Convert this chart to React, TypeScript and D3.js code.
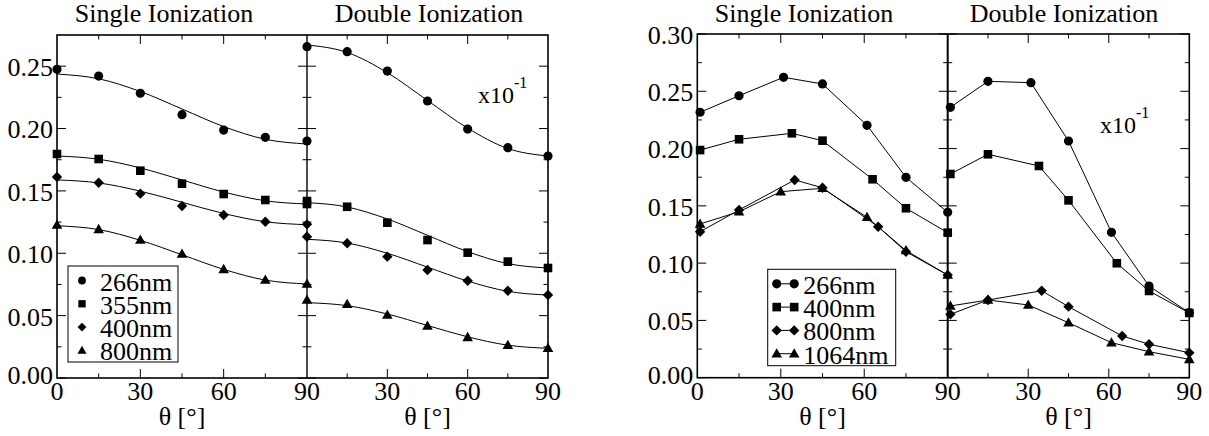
import React from "react";
import * as d3 from "d3";

// ---------- DATA ----------
const THETA = [0, 15, 30, 45, 60, 75, 90];

// Left figure: Single ionization (points + fit curve values)
const L_SI_266 = [0.2475, 0.2421, 0.2283, 0.2111, 0.1988, 0.193, 0.19];
const L_SI_355 = [0.1796, 0.1756, 0.1662, 0.1558, 0.1475, 0.1427, 0.1419];
const L_SI_400 = [0.1612, 0.1566, 0.1478, 0.1379, 0.1307, 0.1253, 0.1232];
const L_SI_800 = [0.1227, 0.1192, 0.1106, 0.0994, 0.0871, 0.0786, 0.0754];
const L_SI_FIT_266 = [0.2437, 0.2399, 0.2297, 0.2157, 0.2016, 0.1914, 0.1876];
const L_SI_FIT_355 = [0.178, 0.1754, 0.1684, 0.1588, 0.1491, 0.1421, 0.1395];
const L_SI_FIT_400 = [0.1588, 0.1564, 0.1498, 0.1409, 0.1319, 0.1253, 0.1229];
const L_SI_FIT_800 = [0.1221, 0.119, 0.1104, 0.0988, 0.0871, 0.0785, 0.0754];

// Left figure: Double ionization (x10^-1)
const L_DI_266 = [0.2656, 0.2616, 0.2461, 0.2221, 0.1996, 0.1847, 0.178];
const L_DI_355 = [0.1395, 0.1373, 0.1245, 0.1106, 0.1005, 0.0933, 0.0882];
const L_DI_400 = [0.1133, 0.108, 0.0973, 0.0866, 0.078, 0.07, 0.0665];
const L_DI_800 = [0.0625, 0.0591, 0.0505, 0.0417, 0.0326, 0.0262, 0.0238];
const L_DI_FIT_266 = [0.267, 0.261, 0.2448, 0.2225, 0.2003, 0.184, 0.178];
const L_DI_FIT_355 = [0.1406, 0.1371, 0.1275, 0.1144, 0.1013, 0.0917, 0.0882];
const L_DI_FIT_400 = [0.1112, 0.1082, 0.1, 0.0889, 0.0777, 0.0695, 0.0665];
const L_DI_FIT_800 = [0.0604, 0.058, 0.0513, 0.0421, 0.033, 0.0263, 0.0238];

// Right figure: angles and values
const R_TH_266 = [1, 15, 31, 45, 61, 75, 90];
const R_TH_400 = [1, 15, 34, 45, 63, 75, 90];
const R_TH_800 = [1, 15, 35, 45, 65, 75, 90];
const R_TH_1064 = [1, 15, 30, 45, 61, 75, 90];
const R_SI_266 = [0.2317, 0.2461, 0.2622, 0.2564, 0.2203, 0.1749, 0.1444];
const R_SI_400 = [0.1987, 0.2081, 0.2133, 0.2069, 0.1732, 0.1479, 0.1266];
const R_SI_800 = [0.1274, 0.1464, 0.1726, 0.1658, 0.1318, 0.11, 0.0896];
const R_SI_1064 = [0.1342, 0.1449, 0.1624, 0.1653, 0.14, 0.111, 0.0896];
const R_DI_266 = [0.236, 0.2587, 0.2575, 0.2066, 0.1269, 0.08, 0.0567];
const R_DI_400 = [0.1778, 0.195, 0.1848, 0.1548, 0.0999, 0.0757, 0.0565];
const R_DI_800 = [0.0553, 0.0678, 0.0759, 0.062, 0.0364, 0.0292, 0.0218];
const R_DI_1064 = [0.0626, 0.0678, 0.0635, 0.048, 0.0306, 0.0227, 0.016];

const LEFT_LEGEND = ["266nm", "355nm", "400nm", "800nm"];
const RIGHT_LEGEND = ["266nm", "400nm", "800nm", "1064nm"];
const SHAPES = ["circle", "square", "diamond", "triangle"];
const LEFT_Y_TICKS = [0, 0.05, 0.1, 0.15, 0.2, 0.25];
const RIGHT_Y_TICKS = [0, 0.05, 0.1, 0.15, 0.2, 0.25, 0.3];
const X_MAJOR = [30, 60];
const X_MINOR = [15, 45, 75];
const X_LABELS_FIRST = [0, 30, 60, 90];
const X_LABELS_SECOND = [30, 60, 90];
const TITLE_SINGLE = "Single Ionization";
const TITLE_DOUBLE = "Double Ionization";
const X_TITLE = "θ [°]";

const FONT = "'Liberation Serif', 'Times New Roman', serif";

function markerPath(shape: string, x: number, y: number, s = 1): string {
  if (shape === "circle") {
    const r = 4.6 * s;
    return `M${x - r},${y}a${r},${r} 0 1,0 ${2 * r},0a${r},${r} 0 1,0 ${-2 * r},0Z`;
  }
  if (shape === "square") {
    const h = 4.3 * s;
    return `M${x - h},${y - h}h${2 * h}v${2 * h}h${-2 * h}Z`;
  }
  if (shape === "diamond") {
    const h = 5.2 * s;
    return `M${x},${y - h}L${x + h},${y}L${x},${y + h}L${x - h},${y}Z`;
  }
  const w = 5.3 * s;
  return `M${x},${y - 5.5 * s}L${x + w},${y + 3.8 * s}L${x - w},${y + 3.8 * s}Z`;
}

type Series = {
  shape: string;
  sTheta: number[];
  sVal: number[];
  dTheta: number[];
  dVal: number[];
  sFit?: number[];
  dFit?: number[];
};

type PanelProps = {
  x0: number;
  xMid: number;
  x1: number;
  yTop: number;
  yBot: number;
  yMax: number;
  yTicks: number[];
  series: Series[];
  titleSingleX: number;
  titleDoubleX: number;
  x10: [number, number];
  legend: { x: number; y: number; w: number; h: number; labels: string[]; lineStyle: boolean };
  dividerWidth: number;
};

function Panel(p: PanelProps) {
  const y = d3.scaleLinear().domain([0, p.yMax]).range([p.yBot, p.yTop]);
  const xs = d3.scaleLinear().domain([0, 90]).range([p.x0, p.xMid]);
  const xd = d3.scaleLinear().domain([0, 90]).range([p.xMid, p.x1]);
  const minorY = d3.range(0.025, p.yMax - 0.001, 0.05);
  const fmt = d3.format(".2f");
  const major = 9;
  const minor = 4.5;
  const els: React.ReactNode[] = [];

  const fitLine = (sc: d3.ScaleLinear<number, number>) =>
    d3
      .line<number>()
      .x((_, i) => sc(THETA[i]))
      .y((v) => y(v))
      .curve(d3.curveMonotoneX);
  const polyLine = (sc: d3.ScaleLinear<number, number>, th: number[]) =>
    d3
      .line<number>()
      .x((_, i) => sc(th[i]))
      .y((v) => y(v));

  // y ticks
  p.yTicks.forEach((t, i) => {
    const yy = y(t);
    els.push(<line key={`yl${i}`} x1={p.x0} x2={p.x0 + major} y1={yy} y2={yy} />);
    els.push(<line key={`yr${i}`} x1={p.x1 - major} x2={p.x1} y1={yy} y2={yy} />);
    els.push(<line key={`ym${i}`} x1={p.xMid - major} x2={p.xMid + major} y1={yy} y2={yy} />);
  });
  minorY.forEach((t, i) => {
    const yy = y(t);
    els.push(<line key={`yml${i}`} x1={p.x0} x2={p.x0 + minor} y1={yy} y2={yy} />);
    els.push(<line key={`ymr${i}`} x1={p.x1 - minor} x2={p.x1} y1={yy} y2={yy} />);
    els.push(<line key={`ymm${i}`} x1={p.xMid - minor} x2={p.xMid + minor} y1={yy} y2={yy} />);
  });
  // x ticks
  [xs, xd].forEach((sc, k) => {
    X_MAJOR.forEach((t) => {
      const xx = sc(t);
      els.push(<line key={`xt${k}${t}`} x1={xx} x2={xx} y1={p.yTop} y2={p.yTop + major} />);
      els.push(<line key={`xb${k}${t}`} x1={xx} x2={xx} y1={p.yBot} y2={p.yBot - major} />);
    });
    X_MINOR.forEach((t) => {
      const xx = sc(t);
      els.push(<line key={`xmt${k}${t}`} x1={xx} x2={xx} y1={p.yTop} y2={p.yTop + minor} />);
      els.push(<line key={`xmb${k}${t}`} x1={xx} x2={xx} y1={p.yBot} y2={p.yBot - minor} />);
    });
  });

  // data
  p.series.forEach((s, i) => {
    if (s.sFit) {
      els.push(<path key={`sf${i}`} d={fitLine(xs)(s.sFit) || ""} fill="none" stroke="#000" strokeWidth={1} />);
    } else {
      els.push(<path key={`sl${i}`} d={polyLine(xs, s.sTheta)(s.sVal) || ""} fill="none" stroke="#000" strokeWidth={1} />);
    }
    if (s.dFit) {
      els.push(<path key={`df${i}`} d={fitLine(xd)(s.dFit) || ""} fill="none" stroke="#000" strokeWidth={1} />);
    } else {
      els.push(<path key={`dl${i}`} d={polyLine(xd, s.dTheta)(s.dVal) || ""} fill="none" stroke="#000" strokeWidth={1} />);
    }
  });
  p.series.forEach((s, i) => {
    s.sVal.forEach((v, j) =>
      els.push(<path key={`sm${i}-${j}`} d={markerPath(s.shape, xs(s.sTheta[j]), y(v))} fill="#000" stroke="none" />)
    );
    s.dVal.forEach((v, j) =>
      els.push(<path key={`dm${i}-${j}`} d={markerPath(s.shape, xd(s.dTheta[j]), y(v))} fill="#000" stroke="none" />)
    );
  });

  const L = p.legend;
  const rowH = 23.3;

  return (
    <g fontFamily={FONT} fill="#000">
      <g stroke="#000" strokeWidth={1}>{els}</g>
      <rect x={p.x0} y={p.yTop} width={p.x1 - p.x0} height={p.yBot - p.yTop} fill="none" stroke="#000" strokeWidth={1.6} />
      <line x1={p.xMid} x2={p.xMid} y1={p.yTop} y2={p.yBot} stroke="#000" strokeWidth={p.dividerWidth} />
      {/* y tick labels */}
      {p.yTicks.map((t, i) => (
        <text key={`ytl${i}`} x={p.x0 - 4} y={y(t) - (t === 0 ? 4 : 0)} dy="0.38em" fontSize={26} textAnchor="end">
          {fmt(t)}
        </text>
      ))}
      {X_LABELS_FIRST.map((t) => (
        <text key={`xl1${t}`} x={xs(t)} y={p.yBot + 22} fontSize={26} textAnchor="middle">
          {t}
        </text>
      ))}
      {X_LABELS_SECOND.map((t) => (
        <text key={`xl2${t}`} x={xd(t)} y={p.yBot + 22} fontSize={26} textAnchor="middle">
          {t}
        </text>
      ))}
      <text x={(p.x0 + p.xMid) / 2} y={p.yBot + 47} fontSize={26} textAnchor="middle">
        {X_TITLE}
      </text>
      <text x={(p.xMid + p.x1) / 2} y={p.yBot + 47} fontSize={26} textAnchor="middle">
        {X_TITLE}
      </text>
      <text x={p.titleSingleX} y={22} fontSize={26} textAnchor="middle">
        {TITLE_SINGLE}
      </text>
      <text x={p.titleDoubleX} y={22} fontSize={26} textAnchor="middle">
        {TITLE_DOUBLE}
      </text>
      <text x={p.x10[0]} y={p.x10[1]} fontSize={24}>
        x10
        <tspan fontSize={16} dy={-15}>
          -1
        </tspan>
      </text>
      {/* legend */}
      <rect x={L.x} y={L.y} width={L.w} height={L.h} fill="#fff" stroke="#000" strokeWidth={1} />
      {L.labels.map((lab, i) => {
        const cy = L.y + 14.5 + i * rowH;
        const shape = SHAPES[i];
        return (
          <g key={`lg${i}`}>
            {L.lineStyle ? (
              <>
                <line x1={L.x + 9} x2={L.x + 26.5} y1={cy} y2={cy} stroke="#000" strokeWidth={1} />
                <path d={markerPath(shape, L.x + 9, cy)} />
                <path d={markerPath(shape, L.x + 26.5, cy)} />
                <text x={L.x + 35.5} y={cy + 10} fontSize={26}>
                  {lab}
                </text>
              </>
            ) : (
              <>
                <path d={markerPath(shape, L.x + 14, cy, 0.85)} />
                <text x={L.x + 32} y={cy + 10} fontSize={26}>
                  {lab}
                </text>
              </>
            )}
          </g>
        );
      })}
    </g>
  );
}

export default function App() {
  const leftSeries: Series[] = [
    { shape: "circle", sTheta: THETA, sVal: L_SI_266, dTheta: THETA, dVal: L_DI_266, sFit: L_SI_FIT_266, dFit: L_DI_FIT_266 },
    { shape: "square", sTheta: THETA, sVal: L_SI_355, dTheta: THETA, dVal: L_DI_355, sFit: L_SI_FIT_355, dFit: L_DI_FIT_355 },
    { shape: "diamond", sTheta: THETA, sVal: L_SI_400, dTheta: THETA, dVal: L_DI_400, sFit: L_SI_FIT_400, dFit: L_DI_FIT_400 },
    { shape: "triangle", sTheta: THETA, sVal: L_SI_800, dTheta: THETA, dVal: L_DI_800, sFit: L_SI_FIT_800, dFit: L_DI_FIT_800 },
  ];
  const rightSeries: Series[] = [
    { shape: "circle", sTheta: R_TH_266, sVal: R_SI_266, dTheta: R_TH_266, dVal: R_DI_266 },
    { shape: "square", sTheta: R_TH_400, sVal: R_SI_400, dTheta: R_TH_400, dVal: R_DI_400 },
    { shape: "diamond", sTheta: R_TH_800, sVal: R_SI_800, dTheta: R_TH_800, dVal: R_DI_800 },
    { shape: "triangle", sTheta: R_TH_1064, sVal: R_SI_1064, dTheta: R_TH_1064, dVal: R_DI_1064 },
  ];
  return (
    <svg
      width={1209}
      height={436}
      style={{ position: "absolute", left: 0, top: 0, background: "#fff" }}
    >
      <rect width={1209} height={436} fill="#fff" />
      <Panel
        x0={57}
        xMid={307}
        x1={548}
        yTop={35}
        yBot={378}
        yMax={0.275}
        yTicks={LEFT_Y_TICKS}
        series={leftSeries}
        titleSingleX={164}
        titleDoubleX={429}
        x10={[478, 103]}
        legend={{ x: 68, y: 266, w: 110, h: 96, labels: LEFT_LEGEND, lineStyle: false }}
        dividerWidth={1.4}
      />
      <Panel
        x0={697.3}
        xMid={947.7}
        x1={1189.3}
        yTop={34}
        yBot={377.7}
        yMax={0.3}
        yTicks={RIGHT_Y_TICKS}
        series={rightSeries}
        titleSingleX={804}
        titleDoubleX={1064}
        x10={[1100, 132.7]}
        legend={{ x: 767.7, y: 269.3, w: 128, h: 96.4, labels: RIGHT_LEGEND, lineStyle: true }}
        dividerWidth={2}
      />
    </svg>
  );
}
